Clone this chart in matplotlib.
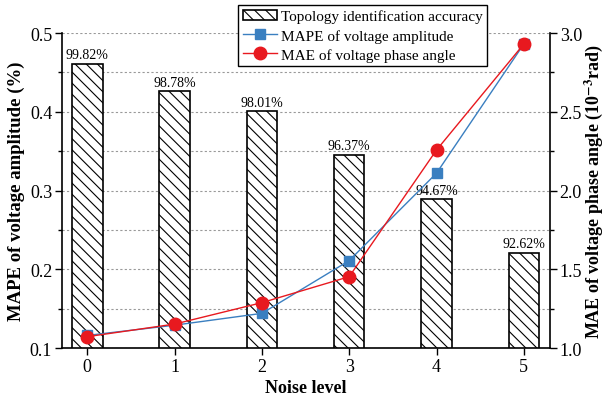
import numpy as np
import matplotlib
matplotlib.use("Agg")
import matplotlib.pyplot as plt
from matplotlib.ticker import MultipleLocator

plt.rcParams['font.family'] = ['Liberation Serif', 'DejaVu Serif']
plt.rcParams['mathtext.fontset'] = 'stix'
plt.rcParams['hatch.linewidth'] = 0.8

noise = [0, 1, 2, 3, 4, 5]
accuracy = [99.82, 98.78, 98.01, 96.37, 94.67, 92.62]   # %
mape_amp = [0.116, 0.129, 0.144, 0.211, 0.322, 0.486]   # %
mae_phase = [1.072, 1.152, 1.288, 1.453, 2.257, 2.93]   # 1e-3 rad

fig = plt.figure(figsize=(6.04, 4.02), dpi=100)
ax = fig.add_axes([0.1026, 0.1318, 0.808, 0.7836])
ax2 = ax.twinx()
ax3 = ax.twinx()   # hidden axis for the accuracy bars

ax3.set_zorder(0)
ax.set_zorder(1)
ax2.set_zorder(2)
ax.patch.set_visible(False)
ax2.patch.set_visible(False)

# bars
bars = ax3.bar(noise, accuracy, width=0.35, facecolor='white', edgecolor='black',
               linewidth=1.2, hatch='\\\\\\', label='Topology identification accuracy')
ax3.set_ylim(89, 101)
for x, a in zip(noise, accuracy):
    ax3.text(x, a + 0.1, f'{a:.2f}%', ha='center', va='bottom', fontsize=10)
ax3.set_yticks(np.arange(89, 101.01, 1.5))
ax3.tick_params(axis='y', length=0, labelleft=False, labelright=False)
ax3.set_axisbelow(True)
ax3.grid(axis='y', linestyle=(0, (2, 2)), color='#999999', linewidth=0.8)
for s in ax3.spines.values():
    s.set_visible(False)

# lines
l1, = ax.plot(noise, mape_amp, color='#3a7fc0', marker='s', markersize=7,
              linewidth=1.0, label='MAPE of voltage amplitude')
l2, = ax2.plot(noise, mae_phase, color='#e8191f', marker='o', markersize=9,
               linewidth=1.0, label='MAE of voltage phase angle')

ax.set_xlim(-0.29, 5.3)
ax.set_ylim(0.1, 0.5)
ax2.set_ylim(1.0, 3.0)
ax.yaxis.set_major_locator(MultipleLocator(0.1))
ax.yaxis.set_minor_locator(MultipleLocator(0.05))
ax2.yaxis.set_major_locator(MultipleLocator(0.5))
ax2.yaxis.set_minor_locator(MultipleLocator(0.25))
ax.set_xticks(noise)

for a in (ax, ax2):
    a.spines['top'].set_visible(False)
    a.tick_params(axis='both', which='major', direction='out', length=5, width=1,
                  labelsize=13, pad=2)
    a.tick_params(axis='both', which='minor', direction='out', length=3, width=1)
ax.spines['right'].set_visible(False)
for s in ('left', 'bottom'):
    ax.spines[s].set_linewidth(1.2)
ax2.spines['right'].set_linewidth(1.2)
ax2.spines['left'].set_visible(False)
ax2.spines['bottom'].set_visible(False)
ax.yaxis.set_major_formatter(plt.FormatStrFormatter('%.1f'))
ax2.yaxis.set_major_formatter(plt.FormatStrFormatter('%.1f'))

ax.set_xlabel('Noise level', fontsize=13, fontweight='bold', labelpad=3)
ax.set_ylabel('MAPE of voltage amplitude (%)', fontsize=13.5, fontweight='bold')
ax2.set_ylabel('MAE of voltage phase angle (10$^{\\mathbf{-3}}$rad)', fontsize=13,
               fontweight='bold')
ax.yaxis.set_label_coords(-0.076, 0.5)
ax2.yaxis.set_label_coords(1.066, 0.5)

leg = fig.legend([bars, l1, l2],
                 ['Topology identification accuracy', 'MAPE of voltage amplitude',
                  'MAE of voltage phase angle'],
                 loc='upper right', bbox_to_anchor=(0.807, 0.985), fontsize=11,
                 frameon=True, fancybox=False, edgecolor='black', framealpha=1,
                 borderpad=0.3, labelspacing=0.35, handlelength=2.2, handletextpad=0.3,
                 borderaxespad=0)
leg.get_frame().set_linewidth(1.0)

fig.savefig('out.png', dpi=100)
